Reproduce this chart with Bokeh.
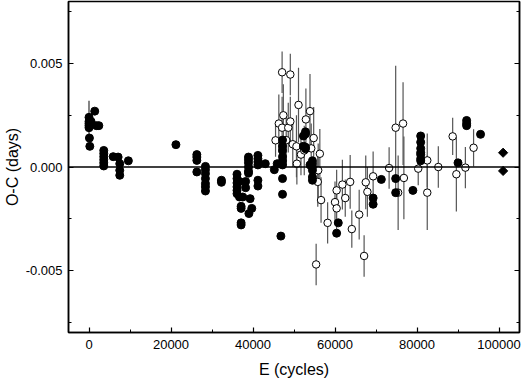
from bokeh.plotting import figure
from bokeh.models import (ColumnDataSource, FixedTicker, NumeralTickFormatter, LinearAxis,
                          Span, CustomJSTickFormatter, Range1d)
from bokeh.embed import file_html
from bokeh.resources import INLINE

# ---------------- data ----------------
# filled circles (E in cycles, O-C in days)
filled_E = [0, 0, 0, 0, 0, 100, 200, 500, 1400, 1800, 2400,
            3600, 3600, 3600, 3600, 3600, 3600, 5900, 7100, 7500, 7500, 7500, 9600,
            21200,
            26300, 26300, 26300, 26300,
            28400, 28400, 28400, 28400, 28400, 28400, 28400,
            32300, 32300,
            36100, 36100, 36100, 36100, 36100, 36100,
            36700, 36700,
            37100, 37100, 37100, 37100,
            37500, 38200, 38200,
            38900, 38900, 38900, 38900, 38900, 38900, 39000, 39300, 39700,
            41200, 41200, 41200, 41200, 41200, 41200,
            43000, 45200, 45900, 46800,
            47200, 47200, 47200, 47200, 47200, 47200, 47200, 47200,
            52300, 52300, 52800, 52800, 52800, 52800,
            53900, 54500, 54500, 54500, 54500, 54500, 54500,
            60400, 60800,
            69300, 69300, 71300, 74800, 74800, 79000,
            80900, 80900, 80900, 80900, 80900, 80900, 80900,
            90000, 92100, 92100, 92100, 95500]
filled_OC = [0.0024, 0.0022, 0.0021, 0.0020, 0.0019, 0.0014, 0.0010, 0.0022, 0.0027, 0.0020, 0.0020,
             0.0008, 0.00065, 0.0005, 0.00035, 0.0002, 0.00005, 0.0005, 0.00048, 0.00016, -0.00016, -0.0004, 0.00030,
             0.00108,
             0.0006, 0.00048, 0.00032, -0.00024,
             0.00003, -0.00013, -0.00032, -0.00056, -0.0008, -0.00096, -0.00116,
             -0.00064, -0.00074,
             -0.00035, -0.00056, -0.00077, -0.00096, -0.00113, -0.00129,
             -0.0007, -0.00145,
             -0.0019, -0.0020, -0.0027, -0.0028,
             -0.00145, -0.0007, -0.0010,
             0.00048, 0.00035, 0.0002, 0.0, -0.0002, -0.0003, -0.00225, -0.00153, -0.0020,
             0.00056, 0.0004, 0.00025, 0.0001, -0.00064, -0.00092,
             0.00016, -0.00013, 0.00016, -0.00334,
             0.0013, 0.0010, 0.0008, 0.0005, 0.0003, 0.0001, -0.00056, -0.00132,
             0.0015, 0.0010, 0.0017, 0.0016, 0.00096, 0.00088,
             0.0001, 0.0003, 0.00016, 0.0, -0.00016, -0.00048, -0.00064,
             -0.0032, -0.0027,
             -0.0015, -0.0018, -0.0006, -0.00056, -0.00124, -0.00113,
             0.0015, 0.0012, 0.0009, 0.0007, 0.0006, 0.0004, 0.0003,
             0.0002, 0.00225, 0.0021, 0.0020, 0.00158]
filled_err = [0.0008] + [0.0] * (len(filled_E) - 1)

# open circles with error bars
open_E = [45500, 46300, 47100, 49100, 47400, 47100, 48600, 49100, 48100, 49700,
          51100, 50600, 50700, 51700, 52500, 52900, 53900, 54800, 54200,
          56300, 55900, 55800, 56600, 55400, 58200, 60000, 60400, 60400,
          61800, 62500, 63700, 64100, 65900, 67100, 67500, 67900, 69300,
          73200, 74800, 76600, 75400, 76800, 80300, 82500, 82500, 85200,
          88700, 89600, 91800, 93800]
open_OC = [0.00129, 0.0021, 0.00458, 0.00447, 0.0025, 0.0019, 0.0019, 0.0022, 0.0013, 0.0011,
           0.0030, 0.0010, 0.00016, 0.0006, 0.0008, 0.0023, 0.0027, 0.0014, 0.0009,
           0.00064, -0.00016, -0.00072, -0.0016, -0.00471, -0.0027, -0.0017, -0.00113, -0.0020,
           -0.00085, -0.0015, -0.00072, -0.0030, -0.0023, -0.0043, -0.00074, -0.0012, -0.00045,
           -0.00005, 0.0019, 0.0021, -0.00124, -0.00053, -0.00008, 0.00032, -0.00124, 0.0,
           0.00148, -0.00035, -0.00003, 0.00093]
open_err = [0.0008, 0.0014, 0.0010, 0.0010, 0.0015, 0.0015, 0.0012, 0.0012, 0.0012, 0.0011,
            0.0018, 0.0015, 0.0010, 0.0010, 0.0012, 0.0015, 0.0018, 0.0015, 0.0012,
            0.0012, 0.0013, 0.0012, 0.0011, 0.0010, 0.0010, 0.0010, 0.0010, 0.0010,
            0.0012, 0.0009, 0.0013, 0.0009, 0.0012, 0.0010, 0.0013, 0.0012, 0.0012,
            0.0010, 0.0030, 0.0020, 0.0018, 0.0020, 0.0008, 0.0013, 0.0018, 0.0010,
            0.0009, 0.0018, 0.0010, 0.0009]

# diamonds
diam_E = [101000, 101000]
diam_OC = [0.00069, -0.00019]

x_ticks = [0, 20000, 40000, 60000, 80000, 100000]
x_minor = [10000, 30000, 50000, 70000, 90000]
y_ticks = [-0.005, 0.0, 0.005]
y_minor = [-0.0075, -0.0025, 0.0025, 0.0075]

# ---------------- figure ----------------
FONT = "Liberation Sans"
p = figure(frame_width=451, frame_height=331, output_backend="svg", toolbar_location=None,
           x_range=Range1d(-5000, 105000), y_range=Range1d(-0.008, 0.008),
           min_border_left=60, min_border_right=2, min_border_top=1, min_border_bottom=40)
p.grid.visible = False
p.outline_line_color = "black"
p.outline_line_width = 1.5

p.add_layout(Span(location=0, dimension="width", line_color="black", line_width=1.5))

oe = ColumnDataSource(dict(x=open_E, y=open_OC,
                           lo=[v - e for v, e in zip(open_OC, open_err)],
                           hi=[v + e for v, e in zip(open_OC, open_err)]))
fe = ColumnDataSource(dict(x=filled_E, y=filled_OC,
                           lo=[v - e for v, e in zip(filled_OC, filled_err)],
                           hi=[v + e for v, e in zip(filled_OC, filled_err)]))
p.segment(x0="x", y0="lo", x1="x", y1="hi", source=oe, line_color="#555555", line_width=1.2)
p.segment(x0="x", y0="lo", x1="x", y1="hi", source=fe, line_color="#333333", line_width=1.2)

p.scatter("x", "y", source=oe, marker="circle", size=7.5, fill_color="white",
          line_color="black", line_width=1)
p.scatter("x", "y", source=fe, marker="circle", size=8, fill_color="black",
          line_color="black")
p.scatter(diam_E, diam_OC, marker="square", angle=0.785398, size=6.5,
          fill_color="black", line_color="black")

for ax in (p.xaxis[0], p.yaxis[0]):
    ax.major_tick_in = 5
    ax.major_tick_out = 0
    ax.minor_tick_in = 3
    ax.minor_tick_out = 0
    ax.axis_line_width = 1.5
    ax.major_tick_line_width = 1.2
    ax.major_label_text_font = FONT
    ax.major_label_text_font_size = "13px"
    ax.major_label_text_color = "black"
    ax.axis_label_text_font = FONT
    ax.axis_label_text_font_size = "16px"
    ax.axis_label_text_font_style = "normal"
    ax.axis_label_text_color = "black"

p.xaxis[0].ticker = FixedTicker(ticks=x_ticks, minor_ticks=x_minor)
p.xaxis[0].formatter = NumeralTickFormatter(format="0")
p.xaxis[0].axis_label = "E (cycles)"
p.xaxis[0].major_label_standoff = 7
p.xaxis[0].axis_label_standoff = 9

p.yaxis[0].ticker = FixedTicker(ticks=y_ticks, minor_ticks=y_minor)
p.yaxis[0].formatter = NumeralTickFormatter(format="0.000")
p.yaxis[0].axis_label = "O-C (days)"
p.yaxis[0].major_label_standoff = 6
p.yaxis[0].axis_label_standoff = 2

right = LinearAxis(ticker=FixedTicker(ticks=y_ticks, minor_ticks=y_minor),
                   formatter=CustomJSTickFormatter(code="return ''"),
                   major_tick_in=5, major_tick_out=0, minor_tick_in=3, minor_tick_out=0,
                   axis_line_width=1.5, major_label_standoff=0)
p.add_layout(right, "right")

open("out.html", "w").write(file_html(p, INLINE))
